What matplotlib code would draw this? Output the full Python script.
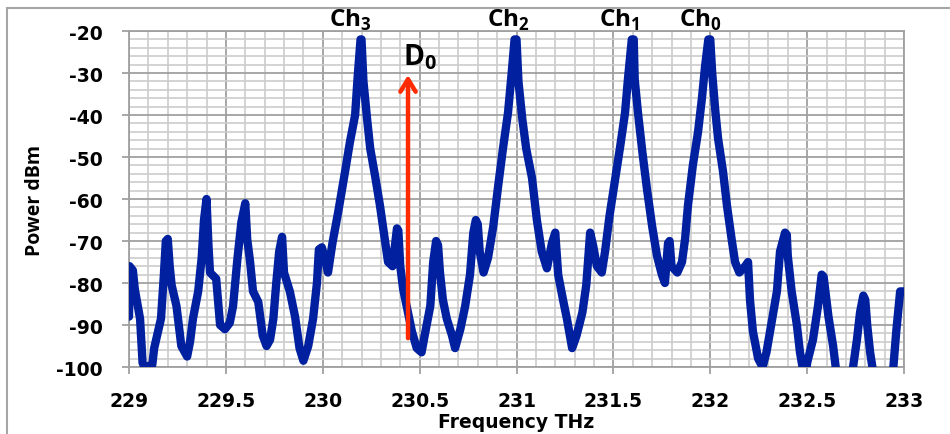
import numpy as np
import matplotlib
matplotlib.use('Agg')
from matplotlib import pyplot as plt
from matplotlib.patches import Rectangle

plt.rcParams['axes.unicode_minus'] = False
plt.rcParams['mathtext.fontset'] = 'custom'
plt.rcParams['mathtext.rm'] = 'Open Sans:bold'
plt.rcParams['mathtext.bf'] = 'Open Sans:bold'

# spectrum (THz, dBm)
freq = [229.000, 229.003, 229.02, 229.03, 229.057, 229.07, 229.08, 229.12, 229.13, 229.15,
        229.165, 229.18, 229.19, 229.2, 229.21, 229.22, 229.245, 229.27, 229.3, 229.315,
        229.33, 229.357, 229.375, 229.387, 229.4, 229.41, 229.418, 229.45, 229.47, 229.495,
        229.52, 229.537, 229.56, 229.58, 229.6, 229.61, 229.625, 229.64, 229.667, 229.69,
        229.71, 229.728, 229.745, 229.76, 229.775, 229.79, 229.8, 229.83, 229.857, 229.88,
        229.9, 229.925, 229.95, 229.97, 229.98, 229.995, 230.01, 230.027, 230.05, 230.08,
        230.115, 230.14, 230.167, 230.18, 230.195, 230.2, 230.21, 230.23, 230.245, 230.27,
        230.295, 230.32, 230.337, 230.36, 230.383, 230.39, 230.4, 230.415, 230.44, 230.46,
        230.485, 230.51, 230.53, 230.555, 230.57, 230.585, 230.595, 230.605, 230.62, 230.64,
        230.667, 230.683, 230.71, 230.735, 230.76, 230.777, 230.79, 230.8, 230.81, 230.83,
        230.853, 230.88, 230.905, 230.93, 230.956, 230.975, 230.99, 231.0, 231.01, 231.03,
        231.05, 231.08, 231.105, 231.13, 231.157, 231.183, 231.2, 231.215, 231.24, 231.26,
        231.287, 231.31, 231.34, 231.36, 231.38, 231.395, 231.415, 231.44, 231.457, 231.48,
        231.51, 231.535, 231.56, 231.575, 231.595, 231.605, 231.61, 231.627, 231.65, 231.673,
        231.7, 231.725, 231.75, 231.766, 231.782, 231.79, 231.8, 231.83, 231.854, 231.87,
        231.885, 231.91, 231.937, 231.957, 231.973, 231.99, 232.0, 232.01, 232.025, 232.04,
        232.066, 232.086, 232.11, 232.128, 232.15, 232.18, 232.195, 232.205, 232.22, 232.247,
        232.27, 232.29, 232.32, 232.344, 232.36, 232.386, 232.395, 232.4, 232.42, 232.447,
        232.463, 232.48, 232.49, 232.5, 232.53, 232.556, 232.575, 232.585, 232.61, 232.634,
        232.65, 232.67, 232.72, 232.737, 232.757, 232.773, 232.79, 232.8, 232.81, 232.825,
        232.84, 232.86, 232.93, 232.945, 232.96, 232.98, 233.0]
power = [-88, -76, -77, -81.5, -88.5, -99, -100, -99.5, -95.5, -91.5,
         -88.5, -78, -70, -69.5, -76, -80.5, -85.5, -95, -97.5, -94,
         -88.5, -82, -74, -65, -60, -71, -77.5, -79, -90, -91,
         -89.5, -85.5, -74, -65.5, -61, -69.5, -75, -82, -84.5, -92.5,
         -95, -93.5, -88.5, -80, -72.5, -69, -77.5, -82, -88, -95.5,
         -98.5, -95, -88.5, -80, -72, -71.5, -74, -77.5, -70.5, -63,
         -53.5, -46.5, -40, -31, -22, -22, -32, -41.5, -48, -54.5,
         -61.5, -69.5, -75, -76, -67, -67.5, -76, -81.5, -87, -91.5,
         -95.5, -96.5, -91.5, -85.5, -75, -70, -71, -77.5, -84, -88.5,
         -92.5, -95.5, -91, -85.5, -78, -68, -65, -66, -72.5, -77.5,
         -74, -66.5, -57, -48, -39.5, -30, -22, -22, -32, -41,
         -48, -55, -65, -72.5, -76.5, -70.5, -68, -78, -84, -88.5,
         -95.5, -92.5, -87, -80.5, -68, -71, -76, -77.5, -72.5, -64,
         -55, -47.5, -39.5, -31.5, -22, -22, -31.5, -39.5, -49, -57.5,
         -66.5, -73.5, -78, -80, -70.5, -70, -76, -77.5, -75, -69.5,
         -61.5, -52, -44, -36, -28.5, -22, -22, -30, -38.5, -45.5,
         -53.5, -61.5, -69.5, -75, -77.5, -76, -75, -84, -91.5, -98,
         -100, -96.5, -88.5, -82, -72.5, -68, -68.5, -73.5, -82, -90,
         -96.5, -101, -103, -99, -93.5, -85.5, -78, -78.5, -88, -95,
         -101, -104, -104, -100, -93.5, -87, -83, -84, -90, -96.5,
         -101, -104, -104, -100, -91.5, -82, -82]

xticks = [229, 229.5, 230, 230.5, 231, 231.5, 232, 232.5, 233]
xticklabels = ['229', '229.5', '230', '230.5', '231', '231.5', '232', '232.5', '233']
yticks = [-100, -90, -80, -70, -60, -50, -40, -30, -20]

channels = ['Ch$_3$', 'Ch$_2$', 'Ch$_1$', 'Ch$_0$']
channel_x = [230.14, 230.956, 231.53, 231.947]

fig = plt.figure(figsize=(9.5, 4.35), dpi=100)
ax = fig.add_axes([0.1358, 0.154, 0.8158, 0.7724])

# outer frame of the chart
fig.patches.append(Rectangle((7 / 950, -0.2), 1.2, 1 - 9 / 435 + 0.2, transform=fig.transFigure,
                             fill=False, edgecolor='#a6a6a6', lw=1.5))

ax.plot(freq, power, color='#0020a0', lw=6, solid_joinstyle='round', solid_capstyle='round', zorder=3)

ax.set_xlim(229, 233)
ax.set_ylim(-100, -20)
ax.set_xticks(xticks)
ax.set_xticklabels(xticklabels)
ax.set_yticks(yticks)
ax.set_xticks(np.arange(229, 233.01, 0.1), minor=True)
ax.set_yticks(np.arange(-100, -19, 2), minor=True)
ax.grid(which='major', color='#a0a0a0', lw=1.3)
ax.grid(which='minor', color='#cccccc', lw=1.2)
ax.set_axisbelow(True)
for s in ax.spines.values():
    s.set_color('#a0a0a0')
    s.set_linewidth(1.3)

ax.tick_params(which='major', direction='out', length=5, color='#a0a0a0', width=1.3)
ax.tick_params(which='minor', length=0)
ax.tick_params(axis='x', pad=12)
ax.tick_params(axis='y', pad=14)
for lab in ax.get_xticklabels() + ax.get_yticklabels():
    lab.set_fontweight('bold')
    lab.set_fontsize(13.5)

ax.set_xlabel('Frequency THz', fontsize=13.5, fontweight='bold', labelpad=2)
ax.set_ylabel('Power dBm', family='Open Sans', fontsize=14, fontweight='bold', labelpad=8)

for name, x in zip(channels, channel_x):
    ax.text(x, -18.8, name, family='Open Sans', fontsize=17.5, fontweight='bold',
            ha='center', va='baseline', clip_on=False)

# D0 marker arrow
ax.annotate('', xy=(230.44, -29.8), xytext=(230.44, -93.8),
            arrowprops=dict(arrowstyle='->, head_length=0.9, head_width=0.55',
                            color='#ff2a00', lw=3.2), zorder=4)
ax.text(230.415, -27.9, 'D$_0$', family='Open Sans', fontsize=20.5, fontweight='bold',
        ha='left', va='baseline')

fig.savefig('out.png', dpi=100)
